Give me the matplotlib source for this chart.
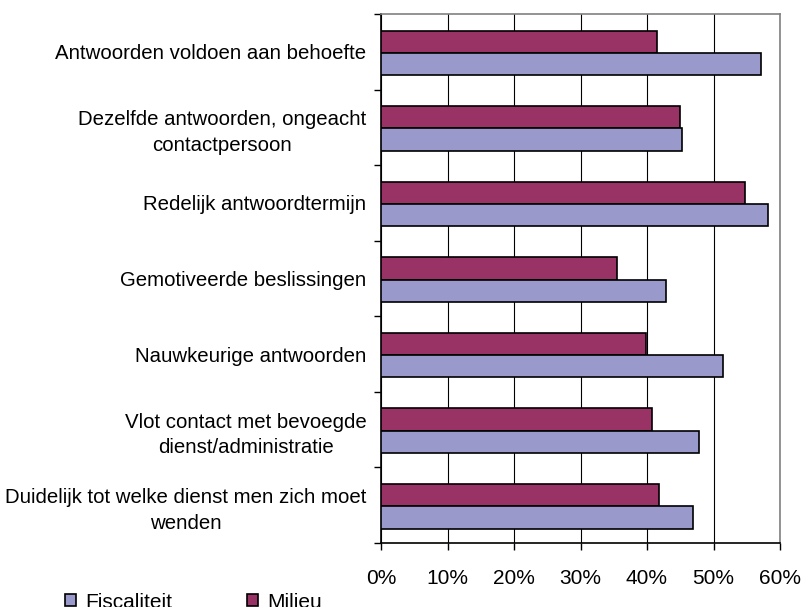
import numpy as np
import matplotlib.pyplot as plt
from matplotlib.ticker import FuncFormatter

plt.rcParams['font.family'] = ['Liberation Sans', 'DejaVu Sans']

# categorieen (van boven naar onder)
categorieen = [
    "Antwoorden voldoen aan behoefte",
    "Dezelfde antwoorden, ongeacht\ncontactpersoon",
    "Redelijk antwoordtermijn",
    "Gemotiveerde beslissingen",
    "Nauwkeurige antwoorden",
    "Vlot contact met bevoegde\ndienst/administratie",
    "Duidelijk tot welke dienst men zich moet\nwenden",
]
fiscaliteit = [57.1, 45.2, 58.2, 42.9, 51.5, 47.8, 46.9]  # %
milieu = [41.5, 44.9, 54.8, 35.5, 39.8, 40.7, 41.8]  # %

kleur_fisc = '#9999CC'
kleur_mil = '#993366'

fig = plt.figure(figsize=(8.02, 6.07), dpi=100)
ax = fig.add_axes([381/802, 1-543/607, (780-381)/802, (543-14)/607])

y = np.arange(len(categorieen))
h = 0.295
ax.barh(y - h/2 + 0.015, milieu, height=h, color=kleur_mil, edgecolor='black', linewidth=1.2, zorder=3, label='Milieu')
ax.barh(y + h/2 + 0.015, fiscaliteit, height=h, color=kleur_fisc, edgecolor='black', linewidth=1.2, zorder=3, label='Fiscaliteit')

ax.set_xlim(0, 60)
ax.set_ylim(len(categorieen) - 0.5, -0.5)
ax.set_xticks(np.arange(0, 61, 10))
ax.xaxis.set_major_formatter(FuncFormatter(lambda v, p: f"{v:.0f}%"))
ax.grid(axis='x', color='black', linewidth=0.8, zorder=0)

ax.set_yticks(y)
ax.set_yticklabels(categorieen, multialignment='center', linespacing=1.45)
ax.set_yticks(np.arange(-0.5, len(categorieen)), minor=True)
ax.tick_params(axis='y', which='major', length=0, pad=10.5, labelsize=14.7)
ax.tick_params(axis='y', which='minor', length=5, width=1, direction='out')
ax.tick_params(axis='x', length=5, width=1, direction='out', pad=14, labelsize=15)

for s in ['top', 'right']:
    ax.spines[s].set_color('#808080')
    ax.spines[s].set_linewidth(1.2)
for s in ['left', 'bottom']:
    ax.spines[s].set_color('black')
    ax.spines[s].set_linewidth(1.2)

handles, labels = ax.get_legend_handles_labels()
fig.legend(handles[::-1], labels[::-1], loc='center left', bbox_to_anchor=(57/802, 1-602/607),
           ncol=2, frameon=False, fontsize=15, handlelength=0.5, handleheight=0.5,
           handletextpad=0.45, columnspacing=3.6, borderaxespad=0)

plt.savefig('out.png', dpi=100)
